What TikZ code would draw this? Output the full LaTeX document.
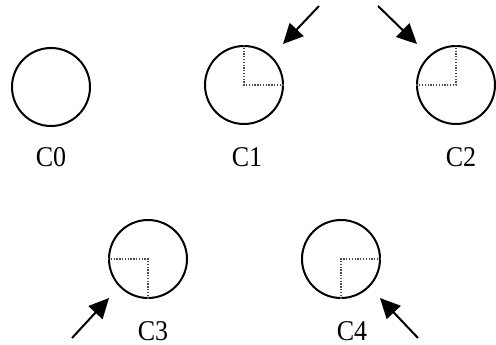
\documentclass[tikz,border=0pt]{standalone}
\usepackage{fontspec}
\usepackage{graphicx}
\setmainfont{Liberation Serif}
\usetikzlibrary{arrows.meta,calc}
\newcommand{\talltext}[1]{\scalebox{1}[1.1]{#1}}
\begin{document}
\begin{tikzpicture}[x=1pt,y=-1pt,
  ring/.style={circle,draw,line width=2pt,minimum size=78pt,inner sep=0pt},
  lbl/.style={font=\fontsize{26}{28}\selectfont,inner sep=0pt},
  dots/.style={line width=1.5pt,dash pattern=on 1.3pt off 1.5pt,black!70},
  pointer/.style={line width=2pt,-{Triangle[length=20pt,width=19pt]}}]
\useasboundingbox (0,0) rectangle (496,345);
% circles
\node[ring] (C0) at (51,87) {};
\node[ring] (C1) at (244,85) {};
\node[ring] (C2) at (456,85) {};
\node[ring] (C3) at (148,259) {};
\node[ring] (C4) at (341,259) {};
% labels
\node[lbl] (L0) at (51,157) {\talltext{C0}};
\node[lbl] (L1) at (247,157) {\talltext{C1}};
\node[lbl] (L2) at (461,157) {\talltext{C2}};
\node[lbl] (L3) at (153,331) {\talltext{C3}};
\node[lbl] (L4) at (352,331) {\talltext{C4}};
% dotted quadrants
\draw[dots] (C1.north) -- (C1.center) -- (C1.east);
\draw[dots] (C2.north) -- (C2.center) -- (C2.west);
\draw[dots] (C3.west) -- (C3.center) -- (C3.south);
\draw[dots] (C4.east) -- (C4.center) -- (C4.south);
% arrow coordinates
\coordinate (s1) at (319,6);
\coordinate (t1) at ($(C1.center)+(39,-41)$);
\coordinate (s2) at (378,6);
\coordinate (t2) at ($(C2.center)+(-39,-41)$);
\coordinate (s3) at (72,338);
\coordinate (t3) at ($(C3.center)+(-39,39)$);
\coordinate (s4) at (418,338);
\coordinate (t4) at ($(C4.center)+(39,39)$);
\draw[pointer] (s1) -- (t1);
\draw[pointer] (s2) -- (t2);
\draw[pointer] (s3) -- (t3);
\draw[pointer] (s4) -- (t4);
\end{tikzpicture}
\end{document}
